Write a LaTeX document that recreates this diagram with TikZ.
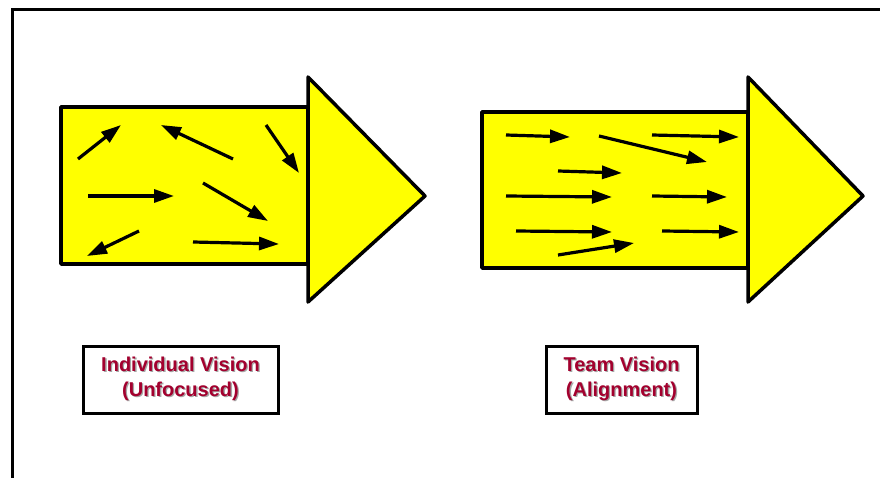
\documentclass[tikz,border=0pt]{standalone}
\usepackage{fontspec}
\setmainfont{Liberation Sans}
\usetikzlibrary{arrows.meta}

\definecolor{visionred}{HTML}{A3002E}
\definecolor{arrowyellow}{HTML}{FFFF00}

\newcommand{\shadowline}[1]{\makebox[0pt][l]{\kern1.3pt\raisebox{-1.3pt}{\color{black!35}#1}}#1}

\begin{document}
\begin{tikzpicture}[x=1pt, y=-1pt,
		bigarrow/.style={draw=black, fill=arrowyellow, line width=3.5pt, line join=round},
		smallarrow/.style={line width=3.2pt, -{Triangle[length=20pt, width=13pt]}},
		labelbox/.style={draw=black, line width=3pt, fill=white, minimum height=67pt, align=center,
			font=\fontsize{20}{25}\selectfont\bfseries, text=visionred}
	]

		\useasboundingbox (0,0) rectangle (880,478);
		\clip (0,0) rectangle (880,478);

		% outer frame
		\draw[line width=3pt] (12,10) rectangle (900,500);

		% individual vision
		\draw[bigarrow] (61,107) rectangle (308,264);
		\draw[bigarrow] (308,77) -- (425,196) -- (308,302) -- cycle;
		\foreach \a/\b/\c/\d in {78/159/121/125, 233/159/161/125, 266/125/299/173,
				88/196/174/196, 203/183/268/221, 139/231/87/256, 193/242/279/244}
			\draw[smallarrow] (\a,\b) -- (\c,\d);

		% team vision
		\draw[bigarrow] (482,112) rectangle (748,268);
		\draw[bigarrow] (748,77) -- (863,196) -- (748,302) -- cycle;
		\foreach \a/\b/\c/\d in {506/135/570/137, 599/136/707/162, 652/135/739/137,
				558/171/622/173, 506/196/612/197, 652/196/727/197,
				516/231/612/232, 662/231/739/232, 558/255/634/243}
			\draw[smallarrow] (\a,\b) -- (\c,\d);

		% labels
		\node[labelbox, minimum width=195pt] (individual) at (180.5,379.5)
			{\shadowline{Individual Vision}\\\shadowline{(Unfocused)}};
		\node[labelbox, minimum width=151pt] (team) at (621.5,379.5)
			{\shadowline{Team Vision}\\\shadowline{(Alignment)}};

	\end{tikzpicture}
\end{document}
